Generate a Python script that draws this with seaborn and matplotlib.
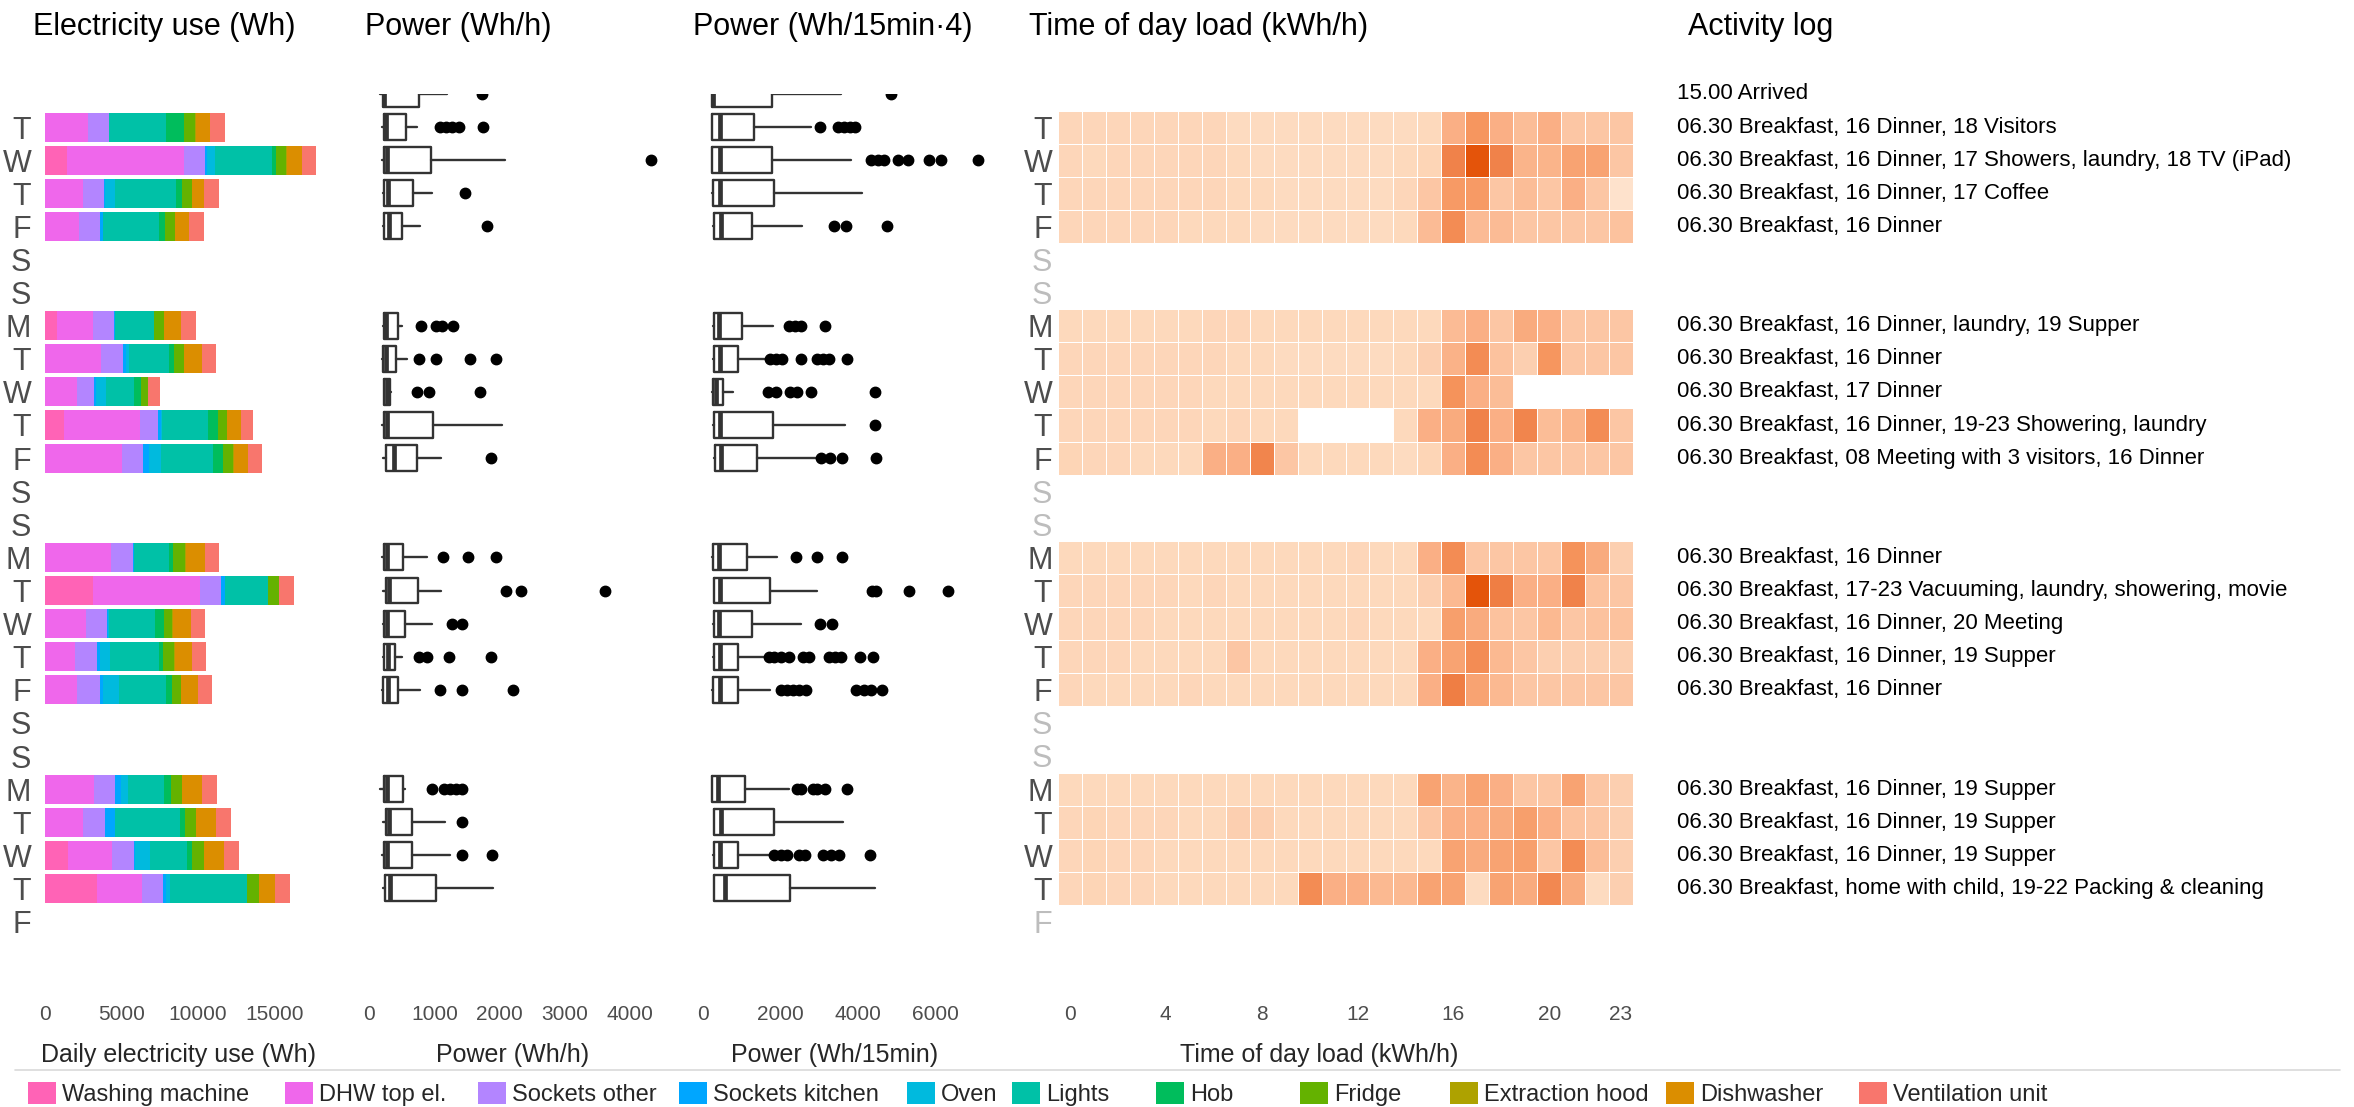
import numpy as np
import pandas as pd
import matplotlib
matplotlib.use("Agg")
import matplotlib.pyplot as plt
from matplotlib.colors import LinearSegmentedColormap
from matplotlib.patches import Patch
from matplotlib.lines import Line2D
import seaborn as sns

n = np.nan

# ---- data -------------------------------------------------------------
# row 0 is the arrival day (no label), rows 1..25 are the days shown
day_labels = ['', 'T', 'W', 'T', 'F', 'S', 'S', 'M', 'T', 'W', 'T', 'F', 'S', 'S',
              'M', 'T', 'W', 'T', 'F', 'S', 'S', 'M', 'T', 'W', 'T', 'F']
rows = list(range(len(day_labels)))
heat_missing_rows = [5, 6, 12, 13, 19, 20, 25]

appliances = ['Washing machine', 'DHW top el.', 'Sockets other', 'Sockets kitchen', 'Oven',
              'Lights', 'Hob', 'Fridge', 'Extraction hood', 'Dishwasher', 'Ventilation unit']
appliance_colors = ['#FF63B6', '#EF67EB', '#B385FF', '#00A6FF', '#00BADE', '#00C1A7',
                    '#00BD5C', '#64B200', '#AEA200', '#DB8E00', '#F8766D']

# daily electricity use per appliance (Wh)
washing_machine = [0, 0, 1450, 0, 0, 0, 0, 800, 0, 0, 1260, 0, 0, 0, 0, 3140, 0, 0, 0, 0, 0, 0, 0, 1520, 3400, 0]
dhw_top = [0, 2790, 7600, 2450, 2230, 0, 0, 2340, 3680, 2060, 4920, 5020, 0, 0, 4310, 6950, 2660, 1990, 2060, 0, 0, 3200, 2510, 2860, 2920, 0]
sockets_other = [0, 1390, 1410, 1390, 1390, 0, 0, 1390, 1430, 1150, 1170, 1390, 0, 0, 1430, 1390, 1410, 1430, 1520, 0, 0, 1390, 1430, 1430, 1360, 0]
sockets_kitchen = [0, 30, 130, 90, 150, 0, 0, 65, 150, 130, 240, 410, 0, 0, 65, 300, 40, 150, 220, 0, 0, 370, 610, 65, 220, 0]
oven = [0, 0, 500, 650, 20, 0, 0, 0, 200, 630, 40, 760, 0, 0, 0, 0, 65, 650, 1060, 0, 0, 460, 40, 970, 260, 0]
lights = [0, 3720, 3700, 3980, 3660, 0, 0, 2510, 2660, 1840, 3010, 3380, 0, 0, 2270, 2770, 2990, 3230, 3010, 0, 0, 2360, 4200, 2430, 5040, 0]
hob = [0, 1170, 260, 410, 390, 0, 0, 0, 280, 450, 630, 690, 0, 0, 300, 40, 590, 240, 410, 0, 0, 430, 370, 350, 0, 0]
fridge = [0, 690, 690, 610, 630, 0, 0, 650, 650, 480, 590, 650, 0, 0, 780, 690, 560, 760, 610, 0, 0, 740, 710, 760, 760, 0]
extraction_hood = [0, 40, 40, 20, 20, 0, 0, 20, 20, 0, 20, 20, 0, 0, 20, 0, 20, 20, 20, 0, 0, 20, 20, 20, 20, 0]
dishwasher = [0, 950, 1000, 780, 890, 0, 0, 1080, 1150, 0, 910, 910, 0, 0, 1260, 0, 1170, 1100, 1060, 0, 0, 1260, 1300, 1280, 1060, 0]
ventilation = [0, 950, 930, 970, 970, 0, 0, 1000, 970, 780, 820, 970, 0, 0, 950, 970, 970, 950, 950, 0, 0, 970, 950, 950, 950, 0]

# boxplot summaries, one entry per day that has data
box_rows = [0, 1, 2, 3, 4, 7, 8, 9, 10, 11, 14, 15, 16, 17, 18, 21, 22, 23, 24]

# Power (Wh/h)
h_lo = [160, 205, 205, 215, 215, 210, 200, 225, 205, 210, 205, 215, 215, 215, 200, 160, 215, 205, 215]
h_q1 = [210, 222, 222, 235, 235, 222, 210, 235, 222, 267, 222, 255, 235, 235, 210, 222, 255, 222, 240]
h_med = [230, 254, 273, 286, 305, 260, 265, 270, 273, 380, 270, 300, 270, 285, 285, 270, 300, 270, 320]
h_q3 = [760, 560, 950, 670, 500, 450, 410, 320, 985, 730, 520, 745, 555, 400, 450, 520, 665, 655, 1030]
h_hi = [1190, 730, 2080, 970, 780, 510, 580, 340, 2030, 1100, 880, 1100, 970, 500, 775, 555, 1160, 1240, 1900]
h_out = [[1730], [1080, 1175, 1270, 1370, 1750], [4320], [1470], [1800],
         [790, 1020, 1120, 1290], [760, 1020, 1540, 1950], [740, 920, 1700], [], [1870],
         [1130, 1520, 1950], [2100, 2320, 3610], [1270, 1420], [760, 890, 1230, 1870],
         [1090, 1430, 2200], [965, 1150, 1240, 1330, 1420], [1420], [1420, 1890], []]

# Power (Wh/15min x 4)
q_lo = [250, 230, 230, 250, 260, 260, 260, 250, 260, 300, 250, 280, 260, 260, 250, 230, 280, 260, 280]
q_q1 = [250, 250, 250, 270, 280, 280, 280, 270, 280, 320, 270, 300, 280, 280, 270, 250, 300, 280, 300]
q_med = [260, 440, 440, 440, 460, 410, 440, 350, 440, 480, 430, 450, 410, 440, 450, 400, 480, 440, 580]
q_q3 = [1790, 1310, 1780, 1840, 1270, 1010, 910, 530, 1810, 1400, 1140, 1740, 1270, 900, 900, 1080, 1840, 900, 2260]
q_hi = [3550, 2780, 3810, 4100, 2570, 1820, 1690, 790, 3660, 2960, 1920, 2940, 2520, 1650, 1740, 2220, 3620, 1720, 4450]
q_out = [[4850], [3010, 3480, 3640, 3790, 3920],
         [4330, 4520, 4680, 5040, 5300, 5820, 6140, 7090], [], [3390, 3700, 4740],
         [2220, 2380, 2530, 3160], [1740, 1900, 2050, 2520, 2940, 3090, 3250, 3720],
         [1690, 1900, 2260, 2420, 2780, 4430], [4450], [3060, 3270, 3580, 4470],
         [2410, 2940, 3580], [4370, 4470, 5320, 6310], [3010, 3320],
         [1700, 1850, 2010, 2220, 2580, 2740, 3260, 3420, 3570, 4040, 4380],
         [2010, 2170, 2320, 2480, 2670, 3940, 4150, 4330, 4620],
         [2430, 2530, 2840, 2950, 3160, 3710], [],
         [1850, 2010, 2170, 2480, 2640, 3100, 3310, 3520, 4300], []]

# time of day load (kWh/h), hours 0..23
hours = list(range(24))
empty = [n] * 24
load_rows = {
    1: [0.33, 0.33, 0.33, 0.33, 0.33, 0.33, 0.33, 0.28, 0.28, 0.28, 0.28, 0.28, 0.28, 0.28, 0.28, 0.3, 0.75, 1.05, 0.75, 0.6, 0.75, 0.5, 0.5, 0.5],
    2: [0.33, 0.3, 0.33, 0.33, 0.33, 0.33, 0.33, 0.3, 0.28, 0.28, 0.28, 0.28, 0.28, 0.28, 0.3, 0.35, 1.35, 1.9, 1.35, 0.7, 0.7, 0.9, 0.9, 0.5],
    3: [0.33, 0.33, 0.33, 0.33, 0.33, 0.33, 0.33, 0.3, 0.3, 0.28, 0.28, 0.28, 0.28, 0.28, 0.33, 0.5, 1.0, 1.0, 0.5, 0.6, 0.5, 0.75, 0.5, 0.22],
    4: [0.33, 0.33, 0.33, 0.33, 0.33, 0.3, 0.3, 0.3, 0.28, 0.28, 0.28, 0.28, 0.28, 0.28, 0.3, 0.62, 1.2, 0.62, 0.62, 0.5, 0.5, 0.5, 0.5, 0.55],
    7: [0.3, 0.3, 0.3, 0.3, 0.3, 0.3, 0.33, 0.33, 0.3, 0.3, 0.3, 0.3, 0.3, 0.3, 0.3, 0.3, 0.62, 0.75, 0.5, 0.8, 0.75, 0.5, 0.5, 0.5],
    8: [0.33, 0.33, 0.33, 0.33, 0.33, 0.33, 0.33, 0.3, 0.3, 0.28, 0.28, 0.28, 0.28, 0.28, 0.3, 0.4, 0.72, 1.2, 0.55, 0.4, 1.05, 0.5, 0.5, 0.5],
    9: [0.33, 0.33, 0.33, 0.33, 0.33, 0.33, 0.3, 0.3, 0.3, 0.3, 0.3, 0.3, 0.3, 0.3, 0.3, 0.3, 1.1, 0.75, 0.6, n, n, n, n, n],
    10: [0.33, 0.33, 0.33, 0.33, 0.33, 0.33, 0.3, 0.33, 0.3, 0.3, n, n, n, n, 0.3, 0.75, 0.8, 1.35, 0.75, 1.3, 0.6, 0.7, 1.2, 0.5],
    11: [0.35, 0.33, 0.33, 0.3, 0.3, 0.3, 0.75, 0.75, 1.3, 0.5, 0.3, 0.3, 0.3, 0.3, 0.28, 0.35, 0.75, 1.2, 0.75, 0.5, 0.5, 0.5, 0.5, 0.5],
    14: [0.3, 0.3, 0.3, 0.3, 0.3, 0.3, 0.3, 0.3, 0.3, 0.3, 0.3, 0.3, 0.33, 0.3, 0.3, 0.75, 1.2, 0.5, 0.5, 0.5, 0.5, 1.1, 0.8, 0.4],
    15: [0.33, 0.33, 0.33, 0.33, 0.33, 0.3, 0.33, 0.3, 0.3, 0.3, 0.3, 0.3, 0.3, 0.3, 0.3, 0.4, 0.65, 1.9, 1.4, 0.75, 0.75, 1.35, 0.55, 0.5],
    16: [0.33, 0.33, 0.33, 0.33, 0.3, 0.3, 0.3, 0.3, 0.3, 0.3, 0.3, 0.3, 0.33, 0.3, 0.3, 0.3, 0.95, 0.8, 0.55, 0.5, 0.65, 0.5, 0.55, 0.55],
    17: [0.33, 0.33, 0.33, 0.3, 0.3, 0.3, 0.3, 0.5, 0.3, 0.3, 0.3, 0.3, 0.3, 0.3, 0.3, 0.75, 0.9, 1.2, 0.65, 0.5, 0.4, 0.4, 0.4, 0.4],
    18: [0.33, 0.3, 0.3, 0.3, 0.3, 0.33, 0.3, 0.3, 0.3, 0.3, 0.3, 0.3, 0.3, 0.3, 0.3, 0.75, 1.4, 0.9, 0.65, 0.5, 0.5, 0.5, 0.5, 0.5],
    21: [0.3, 0.3, 0.3, 0.3, 0.3, 0.3, 0.3, 0.3, 0.3, 0.3, 0.3, 0.3, 0.3, 0.3, 0.3, 0.9, 0.7, 0.9, 0.75, 0.5, 0.5, 0.9, 0.5, 0.4],
    22: [0.33, 0.35, 0.33, 0.33, 0.33, 0.3, 0.3, 0.4, 0.4, 0.3, 0.3, 0.3, 0.3, 0.3, 0.3, 0.5, 0.75, 0.75, 0.8, 0.95, 0.75, 0.55, 0.5, 0.4],
    23: [0.33, 0.35, 0.33, 0.33, 0.3, 0.3, 0.3, 0.3, 0.3, 0.3, 0.3, 0.3, 0.3, 0.3, 0.3, 0.3, 0.9, 0.8, 0.9, 0.95, 0.5, 1.2, 0.6, 0.4],
    24: [0.33, 0.35, 0.33, 0.33, 0.3, 0.3, 0.3, 0.3, 0.3, 0.3, 1.2, 0.75, 0.75, 0.65, 0.65, 0.9, 0.9, 0.28, 0.9, 0.8, 1.25, 0.8, 0.28, 0.4],
}

activity_log = {
    0: '15.00 Arrived',
    1: '06.30 Breakfast, 16 Dinner, 18 Visitors',
    2: '06.30 Breakfast, 16 Dinner, 17 Showers, laundry, 18 TV (iPad)',
    3: '06.30 Breakfast, 16 Dinner, 17 Coffee',
    4: '06.30 Breakfast, 16 Dinner',
    7: '06.30 Breakfast, 16 Dinner, laundry, 19 Supper',
    8: '06.30 Breakfast, 16 Dinner',
    9: '06.30 Breakfast, 17 Dinner',
    10: '06.30 Breakfast, 16 Dinner, 19-23 Showering, laundry',
    11: '06.30 Breakfast, 08 Meeting with 3 visitors, 16 Dinner',
    14: '06.30 Breakfast, 16 Dinner',
    15: '06.30 Breakfast, 17-23 Vacuuming, laundry, showering, movie',
    16: '06.30 Breakfast, 16 Dinner, 20 Meeting',
    17: '06.30 Breakfast, 16 Dinner, 19 Supper',
    18: '06.30 Breakfast, 16 Dinner',
    21: '06.30 Breakfast, 16 Dinner, 19 Supper',
    22: '06.30 Breakfast, 16 Dinner, 19 Supper',
    23: '06.30 Breakfast, 16 Dinner, 19 Supper',
    24: '06.30 Breakfast, home with child, 19-22 Packing & cleaning',
}

# ---- style ------------------------------------------------------------
sns.set_style("white")
plt.rcParams['font.family'] = ['Liberation Sans', 'DejaVu Sans']

W, H = 2354, 1107
ROW_PX = 33.1
TOP_PX = 94
N_ROWS_VIEW = 27.3
AX_H = N_ROWS_VIEW * ROW_PX
TEXT_DARK = '#4D4D4D'
TEXT_LIGHT = '#BDBDBD'
LABEL_Y = -0.05


def place(left_px, width_px):
    return [left_px / W, 1 - (TOP_PX + AX_H) / H, width_px / W, AX_H / H]


def clean(ax):
    for s in ax.spines.values():
        s.set_visible(False)
    ax.tick_params(length=0, labelsize=15, labelcolor=TEXT_DARK, pad=5)
    ax.grid(False)


fig = plt.figure(figsize=(W / 100, H / 100), dpi=100)

# ---- panel 1: stacked daily electricity use -------------------------
ax_bar = fig.add_axes(place(45, 291))
use_df = pd.DataFrame(dict(zip(appliances, [washing_machine, dhw_top, sockets_other, sockets_kitchen,
                                            oven, lights, hob, fridge, extraction_hood,
                                            dishwasher, ventilation])))
cum = use_df.cumsum(axis=1)
for name, color in zip(appliances[::-1], appliance_colors[::-1]):
    sns.barplot(x=cum[name], y=rows, orient='h', color=color, saturation=1,
                width=0.88, errorbar=None, linewidth=0, ax=ax_bar)
ax_bar.set_xlim(0, 19000)
ax_bar.set_ylim(N_ROWS_VIEW, 0)
ax_bar.set_xticks([0, 5000, 10000, 15000])
ax_bar.set_yticks(rows)
ax_bar.set_yticklabels(day_labels, fontsize=22, color=TEXT_DARK)
clean(ax_bar)
ax_bar.tick_params(axis='y', labelsize=22, pad=10)
ax_bar.set_ylabel('')
ax_bar.set_xlabel('Daily electricity use (Wh)', fontsize=18)
ax_bar.xaxis.set_label_coords(0.46, LABEL_Y)


# ---- panels 2 & 3: boxplots ------------------------------------------
def draw_boxes(ax, lo, q1, med, q3, hi, out):
    stats = [dict(whislo=a, q1=b, med=c, q3=d, whishi=e, fliers=f)
             for a, b, c, d, e, f in zip(lo, q1, med, q3, hi, out)]
    kw = dict(positions=box_rows, widths=0.78, showcaps=False, manage_ticks=False,
              boxprops=dict(color='#333333', lw=1.7),
              whiskerprops=dict(color='#333333', lw=1.7),
              medianprops=dict(color='#333333', lw=3.4),
              flierprops=dict(marker='o', markerfacecolor='black', markeredgecolor='black',
                              markersize=7.5))
    try:
        ax.bxp(stats, orientation='horizontal', **kw)
    except TypeError:
        ax.bxp(stats, vert=False, **kw)
    ax.set_ylim(N_ROWS_VIEW, 0)
    ax.set_yticks([])
    clean(ax)


ax_h = fig.add_axes(place(356, 320))
draw_boxes(ax_h, h_lo, h_q1, h_med, h_q3, h_hi, h_out)
ax_h.set_xlim(-200, 4700)
ax_h.set_xticks([0, 1000, 2000, 3000, 4000])
ax_h.set_xlabel('Power (Wh/h)', fontsize=18)
ax_h.xaxis.set_label_coords(0.49, LABEL_Y)

ax_q = fig.add_axes(place(691, 299))
draw_boxes(ax_q, q_lo, q_q1, q_med, q_q3, q_hi, q_out)
ax_q.set_xlim(-300, 7400)
ax_q.set_xticks([0, 2000, 4000, 6000])
ax_q.set_xlabel('Power (Wh/15min)', fontsize=18)
ax_q.xaxis.set_label_coords(0.48, LABEL_Y)

# ---- panel 4: time of day heatmap ------------------------------------
heat_df = pd.DataFrame([load_rows.get(r, empty) for r in rows], index=rows, columns=hours)
load_cmap = LinearSegmentedColormap.from_list(
    'load', [(0.0, '#FEE4D0'), (0.059, '#FDD9BC'), (0.176, '#FCC6A4'), (0.324, '#FAAF84'),
             (0.5, '#F6965F'), (0.676, '#F0824A'), (1.0, '#E4540A')])
ax_heat = fig.add_axes(place(1058, 575))
sns.heatmap(heat_df, ax=ax_heat, cmap=load_cmap, vmin=0.2, vmax=1.9, cbar=False,
            linewidths=0.5, linecolor='white', xticklabels=False, yticklabels=False)
ax_heat.set_ylim(N_ROWS_VIEW + 0.5, 0.5)
ax_heat.set_xticks([h + 0.5 for h in [0, 4, 8, 12, 16, 20, 23]])
ax_heat.set_xticklabels(['0', '4', '8', '12', '16', '20', '23'], rotation=0)
ax_heat.set_yticks([r + 0.5 for r in rows])
ax_heat.set_yticklabels(day_labels, rotation=0)
clean(ax_heat)
ax_heat.tick_params(axis='y', labelsize=22, pad=4)
for r, lab in zip(rows, ax_heat.get_yticklabels()):
    lab.set_color(TEXT_LIGHT if r in heat_missing_rows else TEXT_DARK)
ax_heat.set_ylabel('')
ax_heat.set_xlabel('Time of day load (kWh/h)', fontsize=18)
ax_heat.xaxis.set_label_coords(0.455, LABEL_Y)

# ---- panel 5: activity log -------------------------------------------
ax_log = fig.add_axes(place(1677, 670))
ax_log.set_xlim(0, 1)
ax_log.set_ylim(N_ROWS_VIEW, 0)
ax_log.axis('off')
for r, txt in activity_log.items():
    ax_log.text(0, r, txt, fontsize=16, va='center', ha='left', color='black')

# ---- titles ----------------------------------------------------------
title_y = 1 - 27 / H
for x_px, txt in [(33, 'Electricity use (Wh)'), (365, 'Power (Wh/h)'),
                  (693, 'Power (Wh/15min\u00b74)'), (1029, 'Time of day load (kWh/h)'),
                  (1688, 'Activity log')]:
    fig.text(x_px / W, title_y, txt, fontsize=22, ha='left', va='center', color='black')

# ---- legend (one entry per appliance, laid out like the original) ----
fig.add_artist(Line2D([15 / W, 2340 / W], [1 - 1070 / H] * 2, color='#D9D9D9', lw=1.2))
legend_x_px = [28, 285, 478, 679, 907, 1012, 1156, 1300, 1450, 1666, 1859]
for name, color, x_px in zip(appliances, appliance_colors, legend_x_px):
    fig.legend(handles=[Patch(facecolor=color, edgecolor='none', label=name)],
               loc='center left', bbox_to_anchor=(x_px / W, 1 - 1094 / H),
               frameon=False, fontsize=17, handlelength=1.2, handleheight=1.1,
               handletextpad=0.25, borderaxespad=0, borderpad=0)

fig.savefig('out.png', dpi=100)
